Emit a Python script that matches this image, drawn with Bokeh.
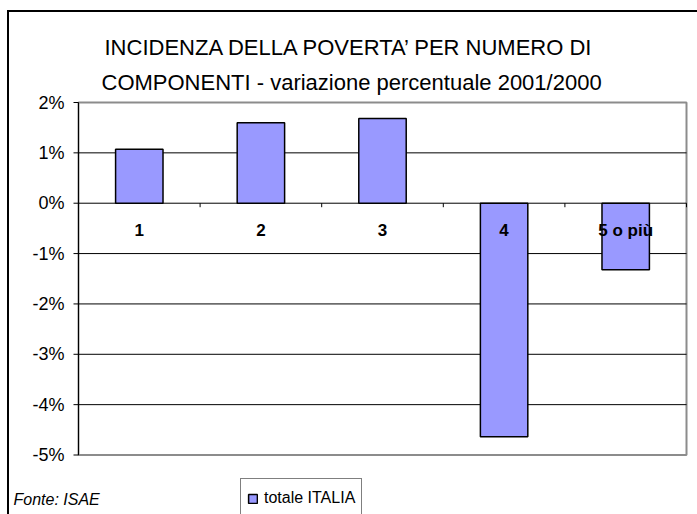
from bokeh.plotting import figure
from bokeh.models import (Range1d, Legend, LegendItem, Label, ColumnDataSource)
from bokeh.core.properties import value
from bokeh.embed import file_html
from bokeh.resources import INLINE

categories = ["1", "2", "3", "4", "5 o più"]
values = [1.07, 1.60, 1.68, -4.64, -1.32]
y_ticks = [-5, -4, -3, -2, -1, 0, 1, 2]
y_tick_labels = [f"{t}%" for t in y_ticks]
series_name = "totale ITALIA"
title_lines = ["INCIDENZA DELLA POVERTA’ PER NUMERO DI",
               "COMPONENTI - variazione percentuale 2001/2000"]
source_note = "Fonte: ISAE"

FONT = "Liberation Sans"
n = len(categories)
ymin, ymax = y_ticks[0], y_ticks[-1]

# page-pixel geometry (layout only)
W, H = 690, 504          # figure size
ML, MT = 7, 10           # figure margin on page
AX_L, AX_R = 78, 686     # page px of x=0 and x=n
AX_T, AX_B = 102, 454.5  # page px of y=ymax and y=ymin
px_x = (AX_R - AX_L) / n
px_y = (AX_B - AX_T) / (ymax - ymin)
x_range = Range1d(-(AX_L - ML) / px_x, n + (ML + W - AX_R) / px_x)
y_range = Range1d(ymin - (MT + H - AX_B) / px_y, ymax + (AX_T - MT) / px_y)


def dx(px):
    return (px - AX_L) / px_x


def dy(py):
    return ymin + (AX_B - py) / px_y


xpos = [i + 0.5 for i in range(n)]
src = ColumnDataSource(dict(x=xpos, top=values, cat=categories))

p = figure(width=W, height=H, output_backend="svg", toolbar_location=None,
           x_range=x_range, y_range=y_range,
           x_axis_location=None, y_axis_location=None,
           min_border_left=0, min_border_right=0, min_border_top=0,
           min_border_bottom=0, margin=(MT, 0, 0, ML))
p.background_fill_alpha = 0
p.border_fill_alpha = 0
p.outline_line_color = None
p.styles = {"box-shadow": "inset 2px 2px 0 0 black", "background-color": "white"}
p.grid.visible = False

# plot-area border (grey)
p.quad(left=[0], right=[n], bottom=[ymin], top=[ymax], fill_alpha=0,
       line_color="#8c8c8c", line_width=2)

# horizontal gridlines
inner = [t for t in y_ticks if ymin < t < ymax]
p.segment(x0=[0] * len(inner), y0=inner, x1=[n] * len(inner), y1=inner,
          line_color="black", line_width=1)

# value axis: line, ticks and labels
p.segment(x0=[0], y0=[ymin], x1=[0], y1=[ymax], line_color="black", line_width=1)
p.segment(x0=[0] * len(y_ticks), y0=y_ticks, x1=[-5 / px_x] * len(y_ticks), y1=y_ticks,
          line_color="black", line_width=1)
p.text(x=[0] * len(y_ticks), y=y_ticks, text=y_tick_labels, x_offset=-14,
       text_align="right", text_baseline="middle", text_font=value(FONT),
       text_font_size="18px", text_color="black")

# category boundary ticks on the zero line
bounds = list(range(n + 1))
p.segment(x0=bounds, y0=[0] * len(bounds), x1=bounds, y1=[-4 / px_y] * len(bounds),
          line_color="black", line_width=1)

bars = p.vbar(x="x", top="top", bottom=0, width=0.39, source=src,
              fill_color="#9999ff", line_color="black", line_width=1.5)

p.text(x="x", y=0, text="cat", source=src, y_offset=27,
       text_align="center", text_baseline="middle",
       text_font=value(FONT), text_font_size="17px", text_font_style="bold",
       text_color="black")

# two-line title
for txt, (tx, ty) in zip(title_lines, [(104, 47), (101, 82)]):
    p.add_layout(Label(x=dx(tx), y=dy(ty), text=txt, text_align="left",
                       text_baseline="middle", text_font=FONT,
                       text_font_size="22px", text_color="black"))

p.add_layout(Label(x=dx(13), y=dy(499), text=source_note, text_align="left",
                   text_baseline="middle", text_font=FONT, text_font_size="16px",
                   text_font_style="italic", text_color="black"))

leg = Legend(items=[LegendItem(label=series_name, renderers=[bars])],
             location=(240 - ML, -4), padding=6, margin=0, spacing=0,
             glyph_width=11, glyph_height=11, label_height=26, label_standoff=6,
             label_text_font=FONT, label_text_font_size="16px",
             label_text_color="black",
             border_line_color="black", border_line_width=1,
             background_fill_color="white", background_fill_alpha=1)
p.add_layout(leg, "center")

open("out.html", "w").write(file_html(p, INLINE))
